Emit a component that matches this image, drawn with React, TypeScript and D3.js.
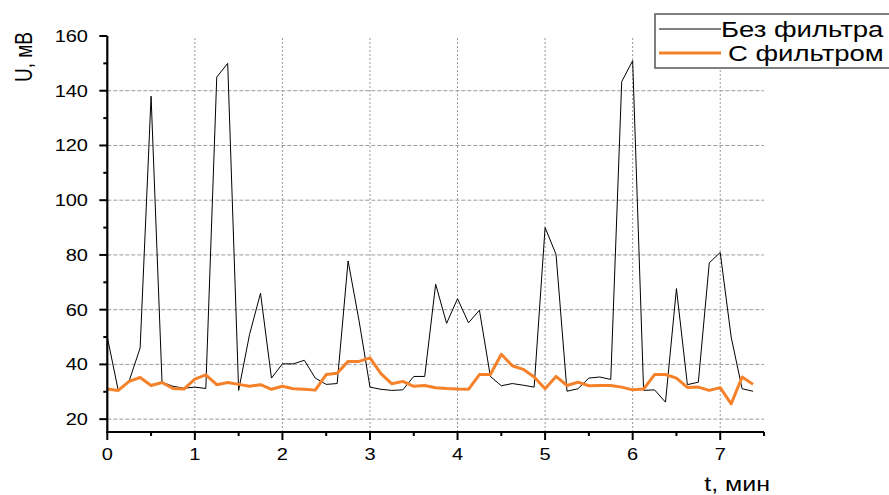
import React from 'react';
import * as d3 from 'd3';

// time, min
const times = [
  0, 0.125, 0.25, 0.375, 0.5, 0.625, 0.75, 0.875,
  1, 1.125, 1.25, 1.375, 1.5, 1.625, 1.75, 1.875,
  2, 2.125, 2.25, 2.375, 2.5, 2.625, 2.75, 2.875,
  3, 3.125, 3.25, 3.375, 3.5, 3.625, 3.75, 3.875,
  4, 4.125, 4.25, 4.375, 4.5, 4.625, 4.75, 4.875,
  5, 5.125, 5.25, 5.375, 5.5, 5.625, 5.75, 5.875,
  6, 6.125, 6.25, 6.375, 6.5, 6.625, 6.75, 6.875,
  7, 7.125, 7.25, 7.375,
];

// U, mV without filter
const rawValues = [
  50, 30.5, 34, 46, 138, 33.5, 32, 31.3,
  31.7, 31.2, 145, 150, 30.5, 51, 66, 35,
  40.2, 40.2, 41.5, 35, 32.7, 33, 77.8, 56,
  31.7, 30.9, 30.5, 30.7, 35.6, 35.6, 69.3, 55,
  64, 55.2, 59.8, 35.6, 32.2, 33, 32.4, 31.7,
  90, 80.2, 30.2, 31.1, 35, 35.4, 34.5, 143.3,
  151, 30.5, 30.7, 26.2, 67.7, 32.6, 33.5, 77.1,
  80.9, 50, 31.1, 30.2,
];

// U, mV with filter
const filteredValues = [
  31, 30.5, 33.8, 35.2, 32.3, 33.4, 31.2, 31,
  34.6, 36.2, 32.6, 33.4, 32.7, 32, 32.6, 30.9,
  32, 31.1, 30.9, 30.6, 36.3, 36.8, 41.1, 41.1,
  42.4, 36.6, 32.9, 33.8, 32, 32.3, 31.5, 31.2,
  31, 30.9, 36.3, 36.3, 43.7, 39.5, 38.2, 35.4,
  31.1, 35.6, 32.3, 33.5, 32.2, 32.3, 32.3, 31.7,
  30.7, 31, 36.3, 36.3, 35, 31.6, 31.7, 30.5,
  31.5, 25.6, 35.4, 32.7,
];

const xTicks = [0, 1, 2, 3, 4, 5, 6, 7];
const xMinorTicks = [0.5, 1.5, 2.5, 3.5, 4.5, 5.5, 6.5, 7.5];
const yTicks = [20, 40, 60, 80, 100, 120, 140, 160];
const yMinorTicks = [30, 50, 70, 90, 110, 130, 150];
const seriesNames = ['Без фильтра', 'С фильтром'];

const W = 889;
const H = 495;
const FONT = 'Liberation Sans, Arial, sans-serif';
const SX = 1.25; // the picture is stretched horizontally
const ORANGE = '#f5822a';

export default function App() {
  const x = d3.scaleLinear().domain([0, 7.5]).range([107.3, 764]);
  const y = d3.scaleLinear().domain([15.3, 160]).range([432, 36]);

  const line = d3
    .line<number>()
    .x((_, i) => x(times[i]))
    .y((d) => y(d));

  const [x0, x1] = x.range();
  const [y0, y1] = y.range();

  return (
    <svg
      width={W}
      height={H}
      style={{position: 'absolute', left: 0, top: 0, background: '#fff'}}
      fontFamily={FONT}
    >
      {/* grid */}
      {yTicks.filter((t) => t < 160).map((t) => (
        <line key={'gy' + t} x1={x0} x2={x1} y1={y(t)} y2={y(t)}
          stroke="#9a9a9a" strokeWidth={1} strokeDasharray="4,2"/>
      ))}
      {xTicks.filter((t) => t > 0).map((t) => (
        <line key={'gx' + t} x1={x(t)} x2={x(t)} y1={y0} y2={y1}
          stroke="#9a9a9a" strokeWidth={1} strokeDasharray="2,2"/>
      ))}

      {/* series */}
      <path d={line(rawValues) || ''} fill="none" stroke="#000" strokeWidth={1}/>
      <path d={line(filteredValues) || ''} fill="none" stroke={ORANGE} strokeWidth={3}
        strokeLinejoin="round"/>

      {/* axes */}
      <line x1={x0} x2={x0} y1={y0 + 1} y2={y1} stroke="#000" strokeWidth={2.2}/>
      <line x1={x0 - 1} x2={x1} y1={y0} y2={y0} stroke="#000" strokeWidth={2.2}/>
      {yTicks.map((t) => (
        <line key={'ty' + t} x1={x0 - 8} x2={x0} y1={y(t)} y2={y(t)} stroke="#000" strokeWidth={2}/>
      ))}
      {yMinorTicks.map((t) => (
        <line key={'tym' + t} x1={x0 - 4} x2={x0} y1={y(t)} y2={y(t)} stroke="#000" strokeWidth={2}/>
      ))}
      {xTicks.map((t) => (
        <line key={'tx' + t} x1={x(t)} x2={x(t)} y1={y0} y2={y0 + 8} stroke="#000" strokeWidth={2}/>
      ))}
      {xMinorTicks.map((t) => (
        <line key={'txm' + t} x1={x(t)} x2={x(t)} y1={y0} y2={y0 + 4} stroke="#000" strokeWidth={2}/>
      ))}

      {/* tick labels */}
      {yTicks.map((t) => (
        <text key={'ly' + t} transform={`translate(88,${y(t) + 6}) scale(${SX},1)`}
          textAnchor="end" fontSize={16} fill="#000">{t}</text>
      ))}
      {xTicks.map((t) => (
        <text key={'lx' + t} transform={`translate(${x(t)},${y0 + 28}) scale(${SX},1)`}
          textAnchor="middle" fontSize={16} fill="#000">{t}</text>
      ))}

      {/* axis titles */}
      <text transform={`translate(770,491) scale(${SX},1)`} textAnchor="end" fontSize={20}>t, мин</text>
      <text transform={`translate(32,57) scale(${SX},1) rotate(-90)`} textAnchor="middle"
        fontSize={19}>U, мВ</text>

      {/* legend */}
      <rect x={655} y={14} width={250} height={54} fill="#fff" stroke="#555" strokeWidth={1.5}/>
      <line x1={659} x2={721} y1={29} y2={29} stroke="#000" strokeWidth={1}/>
      <line x1={659} x2={721} y1={53} y2={53} stroke={ORANGE} strokeWidth={3}/>
      <text transform={`translate(721,37) scale(${SX},1)`} fontSize={22}>{seriesNames[0]}</text>
      <text transform={`translate(728,61) scale(${SX},1)`} fontSize={22}>{seriesNames[1]}</text>
    </svg>
  );
}
